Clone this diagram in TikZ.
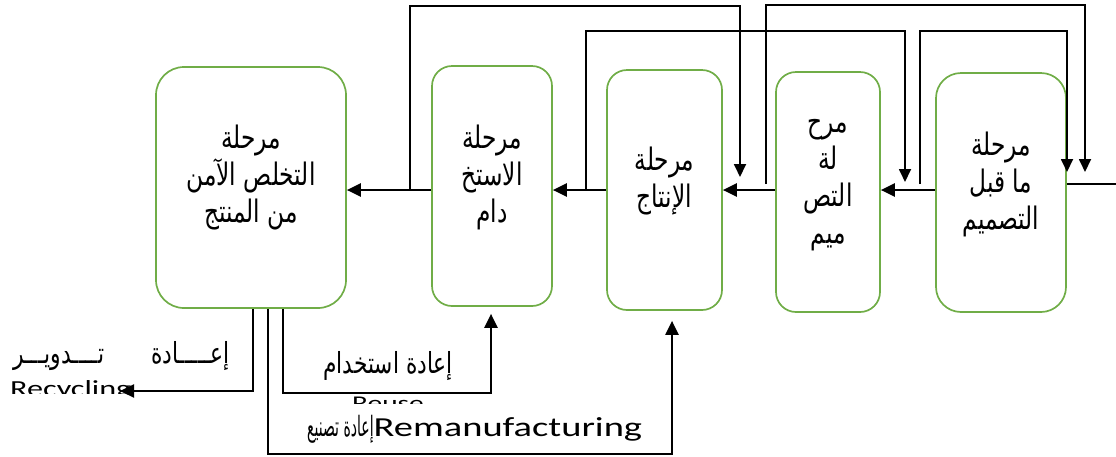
\documentclass[tikz,border=0pt]{standalone}
\usepackage{fontspec}
\setmainfont{Carlito}[FakeStretch=1.4]
\newfontfamily\arabicfont[Script=Arabic,FakeStretch=0.75]{DejaVu Sans}
\newfontfamily\arabicnarrow[Script=Arabic,FakeStretch=0.5]{DejaVu Sans}
\TeXXeTstate=1
\usepackage{xcolor}
\usetikzlibrary{arrows.meta,positioning}
\definecolor{stagegreen}{HTML}{70AD47}
\newcommand{\ar}[1]{{\arabicfont\beginR #1\endR}}

\begin{document}
\begin{tikzpicture}[x=1pt, y=-1pt,
  stage/.style={draw=stagegreen, line width=1.7pt, rounded corners=20pt, inner sep=0pt},
  stagetext/.style={align=center, inner sep=0pt, font=\arabicfont\fontsize{31}{37}\selectfont},
  flow/.style={line width=2.2pt, -{Triangle[length=14pt,width=13pt]}},
  back/.style={line width=1.8pt, -{Triangle[length=13pt,width=12pt]}},
  note/.style={inner sep=0pt, font=\fontsize{29}{32}\selectfont}
]
\useasboundingbox (0,0) rectangle (1116,456);

% stages
\node[stage, rounded corners=28pt, minimum width=190pt, minimum height=241pt] (disp) at (251,187.5) {};
\node[stage, minimum width=120pt, minimum height=240pt] (use) at (492,186) {};
\node[stage, minimum width=115pt, minimum height=240pt] (prod) at (664.5,190) {};
\node[stage, minimum width=104pt, minimum height=240pt] (des) at (828,192) {};
\node[stage, rounded corners=25pt, minimum width=130pt, minimum height=239pt] (pre) at (1001,192.5) {};

\node[stagetext] (t-disp) at (251,178) {\ar{مرحلة}\\\ar{التخلص الآمن}\\\ar{من المنتج}};
\node[stagetext] (t-use) at (492,177) {\ar{مرحلة}\\\ar{الاستخ}\\\ar{دام}};
\node[stagetext] (t-prod) at (664.5,181) {\ar{مرحلة}\\\ar{الإنتاج}};
\node[stagetext] (t-des) at (828,185) {\ar{مرح}\\\ar{لة}\\\ar{التص}\\\ar{ميم}};
\node[stagetext] (t-pre) at (1001,184) {\ar{مرحلة}\\\ar{ما قبل}\\\ar{التصميم}};

% main flow
\coordinate (axis) at (0,190);
\draw[flow] (pre.west |- axis) -- (des.east |- axis);
\draw[flow] (des.west |- axis) -- (prod.east |- axis);
\draw[flow] (prod.west |- axis) -- (use.east |- axis);
\draw[flow] (use.west |- axis) -- (disp.east |- axis);
\coordinate (out) at (1116,184);
\draw[line width=2pt] (pre.east |- out) -- (out);

% feedback on top
\coordinate (ra) at (410,190);
\coordinate (ea) at (740,177);
\coordinate (rb) at (586,190);
\coordinate (eb) at (905,182);
\coordinate (rc) at (766,184);
\coordinate (ec) at (1085,172);
\coordinate (rd) at (920,184);
\coordinate (ed) at (1067,172);
\draw[back] (ra) -- ++(0,-184) -| (ea);
\draw[back] (rb) -- ++(0,-159) -| (eb);
\draw[back] (rc) -- ++(0,-179) -| (ec);
\draw[back] (rd) -- ++(0,-153) -| (ed);

% end of life
\coordinate (rec) at (120,391);
\draw[flow] ([xshift=2pt]disp.south) |- (rec);
\draw[flow] ([xshift=32pt]disp.south) -- ++(0,84) -| ([xshift=-1pt,yshift=-7pt]use.south);
\draw[flow] ([xshift=17pt]disp.south) -- ++(0,145) -| ([xshift=7.5pt,yshift=-10pt]prod.south);

\node[note, anchor=base east] (l-rec) at (230,363) {\ar{تــــدويـــر}\hspace{47pt}\ar{إعـــــادة}};
\begin{scope}
  \clip (0,370) rectangle (200,393);
  \node[note, font=\fontsize{23}{26}\selectfont, anchor=base west] (l-recE) at (10,396) {Recycling};
\end{scope}
\node[note, anchor=base] (l-reuse) at (388,373) {\ar{إعادة استخدام}};
\begin{scope}
  \clip (330,380) rectangle (450,403);
  \node[note, font=\fontsize{21}{26}\selectfont, text depth=0pt, anchor=base] (l-reuseE) at (388,410) {Reuse};
\end{scope}
\node[note, anchor=base west] (l-reman) at (307,436) {{\arabicnarrow\fontsize{28}{30}\selectfont\beginR إعادة تصنيع\endR}{\fontsize{27.5}{30}\selectfont Remanufacturing}};
\end{tikzpicture}
\end{document}
